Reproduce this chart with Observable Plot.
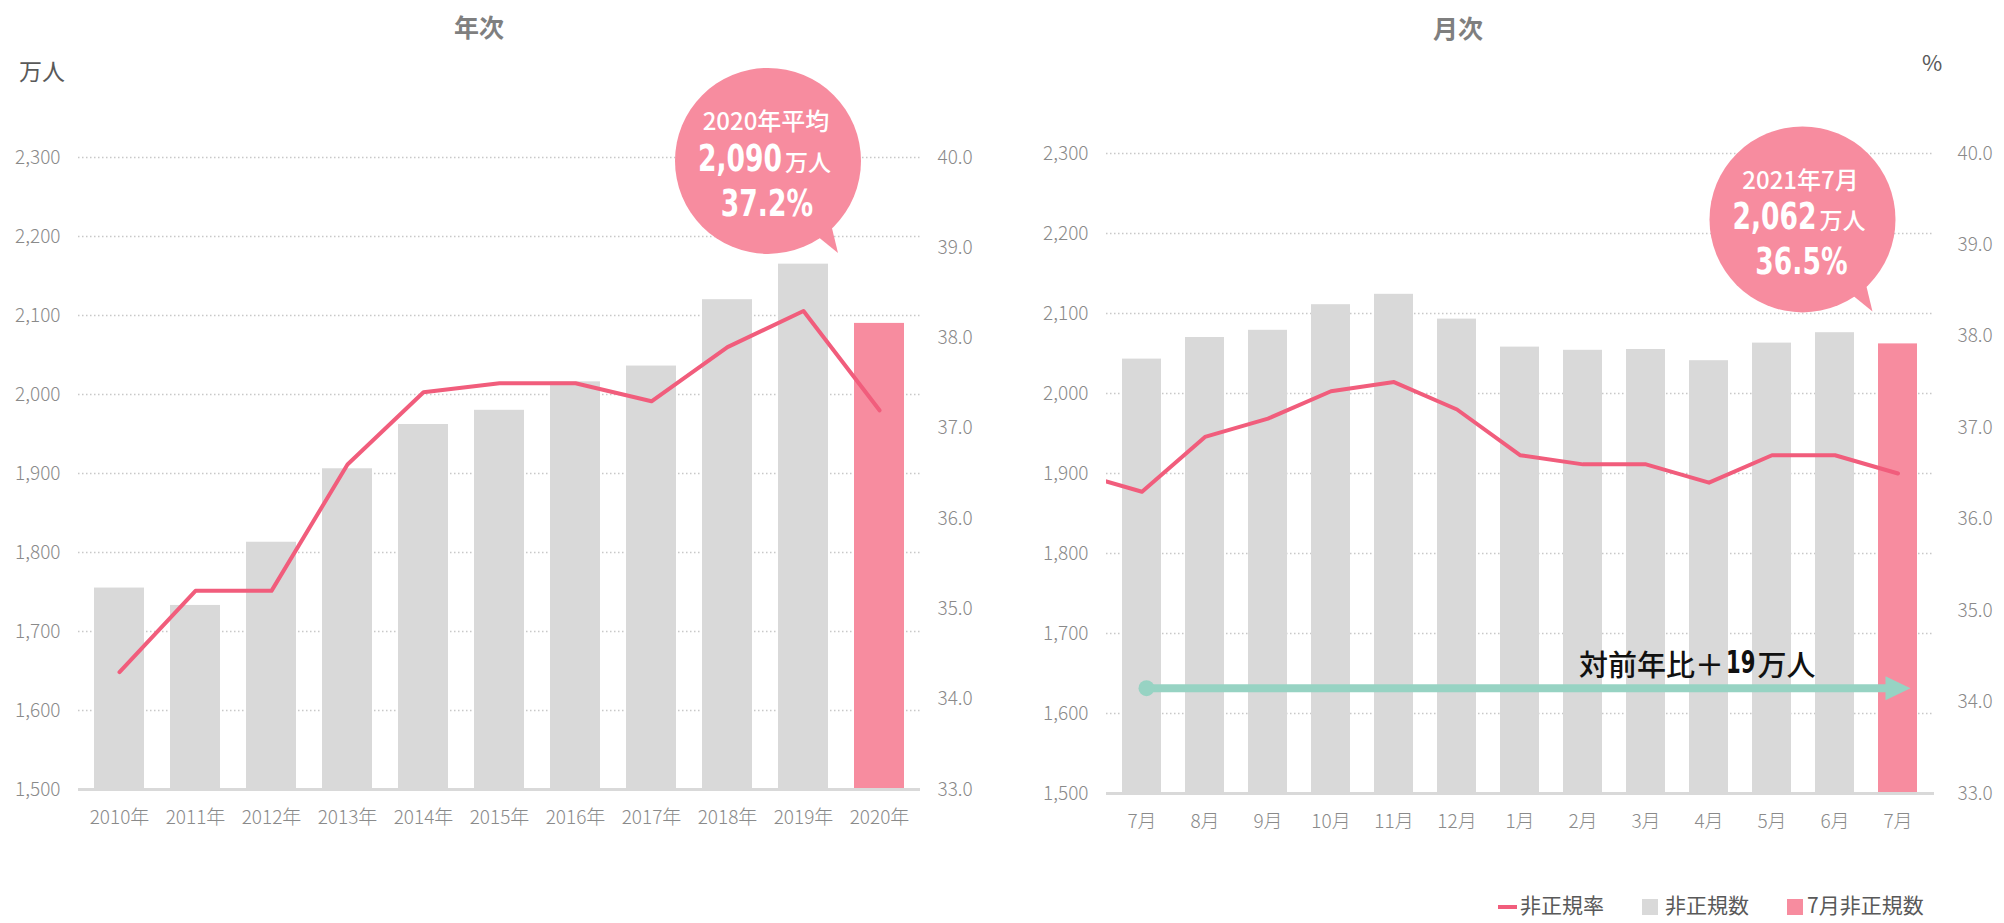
<!DOCTYPE html>
<html>
<head>
<meta charset="utf-8">
<script src="https://cdn.jsdelivr.net/npm/d3@7"></script>
<script src="https://cdn.jsdelivr.net/npm/@observablehq/plot@0.6"></script>
<style>
  body { margin: 0; background: #fff; }
  #page { position: relative; width: 2004px; height: 923px; overflow: hidden;
          font-family: "Noto Sans CJK JP", "Noto Sans", sans-serif; }
  .abs { position: absolute; line-height: 1; white-space: nowrap; }
  .title { font-size: 25px; font-weight: 700; color: #7f7f7f; }
  .unit { font-size: 23px; color: #595959; }
  .leg { font-size: 21px; color: #595959; }
</style>
</head>
<body>
<div id="page"></div>
<script>
// ---------------- data ----------------
const years = ["2010年","2011年","2012年","2013年","2014年","2015年","2016年","2017年","2018年","2019年","2020年"];
const yearCounts = [1755, 1733, 1813, 1906, 1962, 1980, 2016, 2036, 2120, 2165, 2090];   // 非正規数 (万人)
const yearRates  = [34.3, 35.2, 35.2, 36.6, 37.4, 37.5, 37.5, 37.3, 37.9, 38.3, 37.2];   // 非正規率 (%)

const monthKeys   = ["2020-07","2020-08","2020-09","2020-10","2020-11","2020-12","2021-01","2021-02","2021-03","2021-04","2021-05","2021-06","2021-07"];
const monthLabels = ["7月","8月","9月","10月","11月","12月","1月","2月","3月","4月","5月","6月","7月"];
const monthCounts = [2043, 2070, 2079, 2111, 2124, 2093, 2058, 2054, 2055, 2041, 2063, 2076, 2062];
const monthRates  = [36.3, 36.9, 37.1, 37.4, 37.5, 37.2, 36.7, 36.6, 36.6, 36.4, 36.7, 36.7, 36.5];
const priorKey  = "2020-06";   // month before the window (line enters from the left edge)
const priorRate = 36.5;

const countTicks = [1500, 1600, 1700, 1800, 1900, 2000, 2100, 2200, 2300];
const rateTicks  = [33, 34, 35, 36, 37, 38, 39, 40];
const arrowLevel = 1631;   // level of the year-over-year arrow (万人)

// ---------------- styles ----------------
const GRAY = "#d9d9d9", PINK = "#f78c9f", LINE = "#f15d7c", GREEN = "#97d3c3";
const GRID = "#c8c8c8", AXIS = "#8a8a8a";
const FONT = "'Noto Sans CJK JP', 'Noto Sans', sans-serif";
const HEAVY = "'DejaVu Sans', sans-serif";
const fmt = d3.format(",");

const yBase = countTicks[0], yTop = countTicks[countTicks.length - 1];
const rBase = rateTicks[0], rTop = rateTicks[rateTicks.length - 1];
const rateToY = r => yBase + (r - rBase) * (yTop - yBase) / (rTop - rBase);

function bw(x) {
  return typeof x.bandwidth === "function" ? x.bandwidth() : (x.bandwidth || 0);
}
// condensed heavy numerals: DejaVu Sans Bold squeezed horizontally
function naturalEm(s) {
  let w = 0;
  for (const c of s) w += /[0-9]/.test(c) ? 0.696 : (c === "%" ? 1.002 : 0.38);
  return w;
}
function heavyText(g, s, x, y, size, squeeze, anchor) {
  const w = naturalEm(s) * size * squeeze;
  const x0 = anchor === "middle" ? x - w / 2 : anchor === "end" ? x - w : x;
  g.append("text")
    .attr("transform", `translate(${x0},${y}) scale(${squeeze},1)`)
    .attr("text-anchor", "start")
    .attr("dominant-baseline", "central")
    .style("font", `bold ${size}px ${HEAVY}`).text(s);
  return w;
}

function callout({key, value, dx, dy, lines}) {
  return (index, scales) => {
    const x = scales.x, y = scales.y;
    const cx = x(key) + bw(x) / 2 + dx, cy = y(value) + dy;
    const r = 93;
    const g = d3.create("svg:g");
    const a1 = 45 * Math.PI / 180, a2 = 57 * Math.PI / 180;
    g.append("path")
      .attr("d", `M${cx + (r - 4) * Math.cos(a1)},${cy + (r - 4) * Math.sin(a1)} L${cx + 70},${cy + 92} L${cx + (r - 4) * Math.cos(a2)},${cy + (r - 4) * Math.sin(a2)}Z`)
      .attr("fill", PINK);
    g.append("circle").attr("cx", cx).attr("cy", cy).attr("r", r).attr("fill", PINK);
    const tg = g.append("g").attr("fill", "#fff");
    tg.append("text").attr("x", cx - 2).attr("y", cy - 41)
      .attr("text-anchor", "middle").attr("dominant-baseline", "central")
      .style("font", `500 24px ${FONT}`).text(lines[0]);
    // line 2: big number + 万人
    const size = 38, squeeze = 0.7, unitW = 47, gap = 3;
    const numW = naturalEm(lines[1]) * size * squeeze;
    const sx = cx - 3 - (numW + gap + unitW) / 2;
    heavyText(tg, lines[1], sx, cy - 3, size, squeeze, "start");
    tg.append("text").attr("x", sx + numW + gap).attr("y", cy)
      .attr("text-anchor", "start").attr("dominant-baseline", "central")
      .style("font", `500 23px ${FONT}`).text("万人");
    // line 3: percentage
    heavyText(tg, lines[2], cx - 1, cy + 42, size, squeeze, "middle");
    return g.node();
  };
}

function yoyArrow(k0, k1, level, diff) {
  return (index, scales) => {
    const x = scales.x, y = scales.y, b = bw(x);
    const x0 = x(k0) + b / 2 + 5, x1 = x(k1) + b / 2 + 13, yy = y(level);
    const g = d3.create("svg:g");
    g.append("line").attr("x1", x0).attr("x2", x1 - 22).attr("y1", yy).attr("y2", yy)
      .attr("stroke", GREEN).attr("stroke-width", 8);
    g.append("circle").attr("cx", x0).attr("cy", yy).attr("r", 8).attr("fill", GREEN);
    g.append("path").attr("d", `M${x1},${yy} L${x1 - 25},${yy - 12} L${x1 - 25},${yy + 12}Z`).attr("fill", GREEN);
    const tg = g.append("g").attr("fill", "#111");
    const end = x1 - 95, ty = yy - 25;
    tg.append("text").attr("x", end).attr("y", ty).attr("text-anchor", "end").attr("dominant-baseline", "central")
      .style("font", `500 29px ${FONT}`).text("万人");
    const w = heavyText(tg, String(diff), end - 60, ty - 1, 32, 0.66, "end");
    tg.append("text").attr("x", end - 60 - w - 2).attr("y", ty).attr("text-anchor", "end").attr("dominant-baseline", "central")
      .style("font", `500 29px ${FONT}`).text("対前年比＋");
    return g.node();
  };
}

function makeChart({keys, domain, range, tickFormat, counts, lineData, width, height, m, padIn, rightDx, extras}) {
  const bars = keys.map((k, i) => ({key: k, value: counts[i], last: i === keys.length - 1}));
  return Plot.plot({
    width, height,
    marginLeft: m[0], marginRight: m[1], marginTop: m[2], marginBottom: m[3],
    style: {fontFamily: FONT, fontSize: "19px", fontWeight: 300, color: AXIS, background: "transparent", overflow: "visible"},
    x: {domain, range, paddingInner: padIn, paddingOuter: padIn / 2, tickSize: 0, tickPadding: 21, label: null, tickFormat},
    y: {domain: [yBase, yTop], ticks: countTicks.length - 1, tickFormat: d => fmt(d), tickSize: 0, tickPadding: 18, label: null},
    marks: [
      Plot.ruleY(countTicks.slice(1), {stroke: GRID, strokeWidth: 1.5, strokeDasharray: "1.5,2.5"}),
      Plot.barY(bars.filter(d => !d.last), {x: "key", y1: yBase, y2: "value", fill: GRAY}),
      Plot.barY(bars.filter(d => d.last), {x: "key", y1: yBase, y2: "value", fill: PINK}),
      Plot.ruleY([yBase], {stroke: GRAY, strokeWidth: 3}),
      Plot.line(lineData, {x: "key", y: d => rateToY(d.rate), stroke: LINE, strokeWidth: 4, clip: true}),
      Plot.text(rateTicks, {y: d => rateToY(d), text: d => d.toFixed(1), frameAnchor: "right", textAnchor: "start", dx: rightDx}),
      ...extras
    ]
  });
}

const page = document.getElementById("page");
function place(node, left, top) {
  const d = document.createElement("div");
  d.className = "abs";
  d.style.left = left + "px"; d.style.top = top + "px";
  d.appendChild(node);
  page.appendChild(d);
  return d;
}
function label(text, cls, left, top, extraStyle) {
  const d = document.createElement("div");
  d.className = "abs " + cls;
  d.style.left = left + "px"; d.style.top = top + "px";
  if (extraStyle) Object.assign(d.style, extraStyle);
  d.textContent = text;
  page.appendChild(d);
  return d;
}

// ---------------- left: 年次 ----------------
const L = {w: 1000, h: 870, m: [78, 80, 157, 81]};
const leftSvg = makeChart({
  keys: years, domain: years, range: undefined, tickFormat: d => d,
  counts: yearCounts,
  lineData: years.map((k, i) => ({key: k, rate: yearRates[i]})),
  width: L.w, height: L.h, m: L.m, padIn: 0.347, rightDx: 17,
  extras: [callout({key: years[years.length - 1], value: yearCounts[yearCounts.length - 1], dx: -111, dy: -162,
    lines: ["2020年平均", fmt(yearCounts[yearCounts.length - 1]), yearRates[yearRates.length - 1].toFixed(1) + "%"]})]
});
place(leftSvg, 0, 0);

// ---------------- right: 月次 ----------------
const R = {w: 1004, h: 870, m: [106, 70, 153, 77]};
const frameW = R.w - R.m[0] - R.m[1];
const stepR = frameW / monthKeys.length;
const labelMap = new Map(monthKeys.map((k, i) => [k, monthLabels[i]]));
const lineKeys = [priorKey, ...monthKeys];
const lineRates = [priorRate, ...monthRates];
const rightSvg = makeChart({
  keys: monthKeys, domain: lineKeys, range: [R.m[0] - stepR, R.w - R.m[1]],
  tickFormat: k => labelMap.get(k) || "",
  counts: monthCounts,
  lineData: lineKeys.map((k, i) => ({key: k, rate: lineRates[i]})),
  width: R.w, height: R.h, m: R.m, padIn: 0.375, rightDx: 23,
  extras: [
    yoyArrow(monthKeys[0], monthKeys[monthKeys.length - 1], arrowLevel, monthCounts[monthCounts.length - 1] - monthCounts[0]),
    callout({key: monthKeys[monthKeys.length - 1], value: monthCounts[monthCounts.length - 1], dx: -95, dy: -124,
      lines: ["2021年7月", fmt(monthCounts[monthCounts.length - 1]), monthRates[monthRates.length - 1].toFixed(1) + "%"]})
  ]
});
place(rightSvg, 1000, 0);

// ---------------- titles & units ----------------
label("年次", "title", 479, 14, {transform: "translateX(-50%)"});
label("月次", "title", 1458, 15, {transform: "translateX(-50%)"});
label("万人", "unit", 19, 59);
label("%", "unit", 1922, 50, {fontSize: "22px"});

// ---------------- legend ----------------
function swatch(left, top, w, h, color) {
  const d = document.createElement("div");
  d.className = "abs";
  Object.assign(d.style, {left: left + "px", top: top + "px", width: w + "px", height: h + "px", background: color});
  page.appendChild(d);
}
swatch(1498, 905, 19, 4, LINE);
label("非正規率", "leg", 1520, 894);
swatch(1642, 899, 16, 16, GRAY);
label("非正規数", "leg", 1665, 894);
swatch(1787, 899, 16, 16, PINK);
label("7月非正規数", "leg", 1807, 894);
</script>
</body>
</html>
